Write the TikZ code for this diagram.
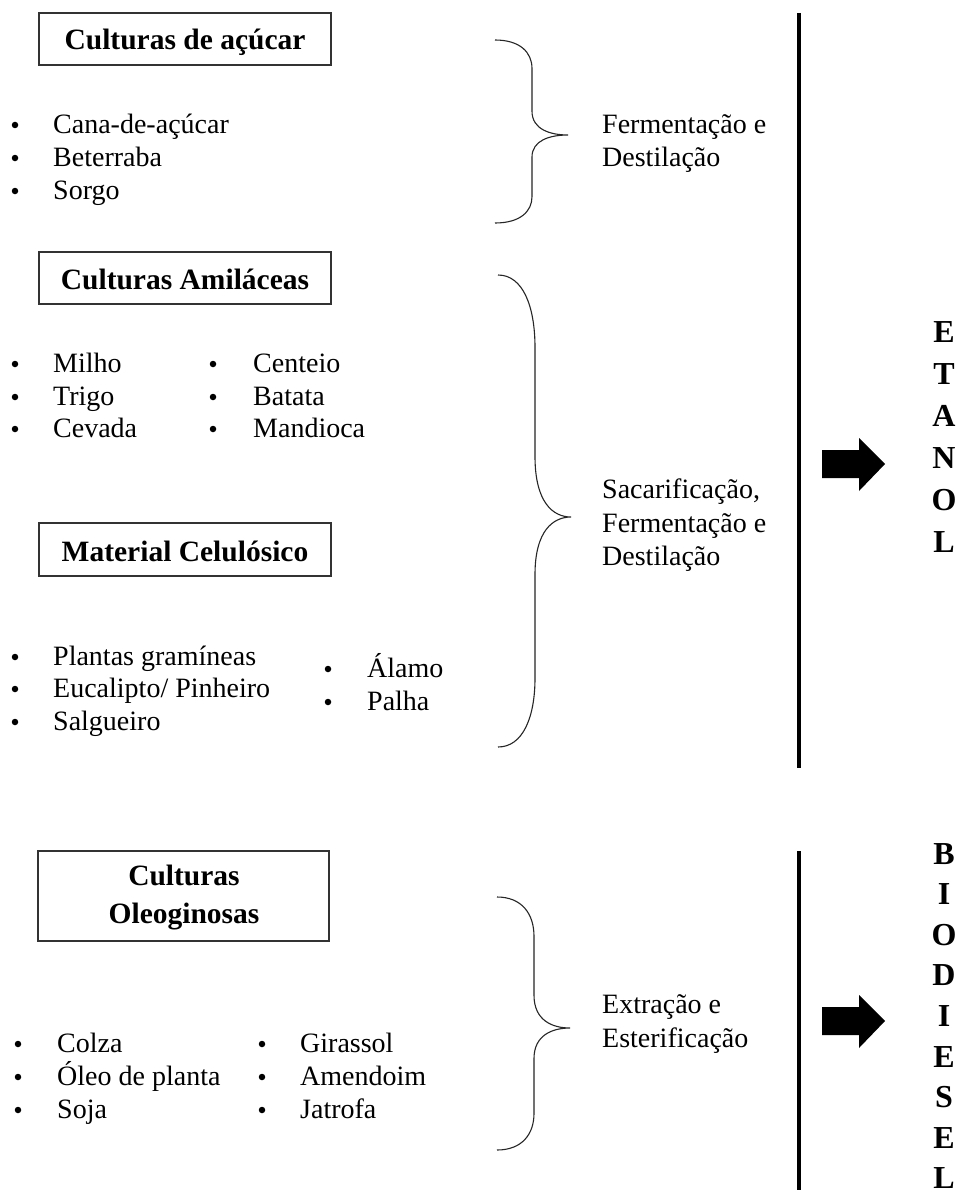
\documentclass[tikz,border=0pt]{standalone}
\usepackage{fontspec}
\setmainfont{Liberation Serif}

\tikzset{
  catbox/.style={draw=black!80, line width=1.3pt, inner sep=0pt},
  head/.style={font=\fontsize{29.5}{33}\selectfont\bfseries, anchor=base, inner sep=0pt},
  item/.style={font=\fontsize{28}{33}\selectfont, anchor=base west, inner sep=0pt},
  proc/.style={font=\fontsize{28}{33}\selectfont, anchor=base west, inner sep=0pt},
  dotmark/.style={circle, fill=black, inner sep=0pt, minimum size=6.5pt},
  product/.style={font=\fontsize{32}{36}\selectfont\bfseries, anchor=base, inner sep=0pt},
  divider/.style={line width=3.5pt},
  bracestroke/.style={line width=1.1pt, black!85},
  blockarrow/.style={fill=black},
}

% bulleted entry: name, bullet x, text x, baseline y, text
\newcommand\bitem[5]{%
  \node[dotmark] (#1-dot) at (#2,{#4-8}) {};
  \node[item] (#1) at (#3,#4) {#5};}

% curly brace opening to the right: left x, top y, bottom y, tip y
\newcommand\curlybrace[4]{%
  \draw[bracestroke]
    (#1,#2) .. controls ({#1+25},#2) and ({#1+37},{#2+0.13*(#4-#2)}) ..
    ({#1+37},{#2+0.3*(#4-#2)})
    -- ({#1+37},{#4-0.25*(#4-#2)})
    .. controls ({#1+37},{#4-0.06*(#4-#2)}) and ({#1+55},#4) .. ({#1+73},#4)
    .. controls ({#1+55},#4) and ({#1+37},{#4+0.06*(#3-#4)}) ..
    ({#1+37},{#4+0.25*(#3-#4)})
    -- ({#1+37},{#3-0.3*(#3-#4)})
    .. controls ({#1+37},{#3-0.13*(#3-#4)}) and ({#1+25},#3) .. (#1,#3);}

% thick right-pointing block arrow centred on y
\newcommand\blockarrowat[1]{%
  \fill[blockarrow] (822,{#1-14}) -- (859,{#1-14}) -- (859,{#1-26}) -- (885,#1)
    -- (859,{#1+27}) -- (859,{#1+14}) -- (822,{#1+14}) -- cycle;}

\begin{document}
\begin{tikzpicture}[x=1pt, y=-1pt]
  \useasboundingbox (0,0) rectangle (963,1196);
  \fill[white] (0,0) rectangle (963,1196);

  % ---- sugar crops ----
  \node[catbox, minimum width=292pt, minimum height=52pt] (boxSugar) at (185,39) {};
  \node[head] (headSugar) at (185,50) {Culturas de açúcar};
  \bitem{cana}{15}{53}{133}{Cana-de-açúcar}
  \bitem{beterraba}{15}{53}{166}{Beterraba}
  \bitem{sorgo}{15}{53}{199}{Sorgo}

  % ---- starch crops ----
  \node[catbox, minimum width=292pt, minimum height=52pt] (boxStarch) at (185,278) {};
  \node[head] (headStarch) at (185,289) {Culturas Amiláceas};
  \bitem{milho}{15}{53}{372}{Milho}
  \bitem{trigo}{15}{53}{405}{Trigo}
  \bitem{cevada}{15}{53}{437}{Cevada}
  \bitem{centeio}{213}{253}{372}{Centeio}
  \bitem{batata}{213}{253}{405}{Batata}
  \bitem{mandioca}{213}{253}{437}{Mandioca}

  % ---- cellulosic material ----
  \node[catbox, minimum width=292pt, minimum height=53pt] (boxCell) at (185,549.5) {};
  \node[head] (headCell) at (185,561) {Material Celulósico};
  \bitem{gramineas}{15}{53}{665}{Plantas gramíneas}
  \bitem{eucalipto}{15}{53}{697}{Eucalipto/ Pinheiro}
  \bitem{salgueiro}{15}{53}{730}{Salgueiro}
  \bitem{alamo}{328}{367}{677}{Álamo}
  \bitem{palha}{328}{367}{710}{Palha}

  % ---- oil crops ----
  \node[catbox, minimum width=291pt, minimum height=90pt] (boxOil) at (183.5,896) {};
  \node[head] (headOil1) at (184,885) {Culturas};
  \node[head] (headOil2) at (184,923) {Oleoginosas};
  \bitem{colza}{18}{57}{1052}{Colza}
  \bitem{oleo}{18}{57}{1085}{Óleo de planta}
  \bitem{soja}{18}{57}{1118}{Soja}
  \bitem{girassol}{262}{300}{1052}{Girassol}
  \bitem{amendoim}{262}{300}{1085}{Amendoim}
  \bitem{jatrofa}{262}{300}{1118}{Jatrofa}

  % ---- braces and processes ----
  \curlybrace{495}{40}{223}{135}
  \node[proc] (p1a) at (602,133) {Fermentação e};
  \node[proc] (p1b) at (602,166) {Destilação};

  \curlybrace{498}{275}{747}{517}
  \node[proc] (p2a) at (602,498) {Sacarificação,};
  \node[proc] (p2b) at (602,532) {Fermentação e};
  \node[proc] (p2c) at (602,565) {Destilação};

  \curlybrace{497}{897}{1150}{1028}
  \node[proc] (p3a) at (602,1013) {Extração e};
  \node[proc] (p3b) at (602,1047) {Esterificação};

  % ---- dividers ----
  \coordinate (d1top) at (799,13);
  \coordinate (d1bot) at (799,768);
  \coordinate (d2top) at (799,851);
  \coordinate (d2bot) at (799,1190);
  \draw[divider] (d1top) -- (d1bot);
  \draw[divider] (d2top) -- (d2bot);

  % ---- products ----
  \blockarrowat{464}
  \blockarrowat{1021}
  \foreach \ch [count=\i from 0] in {E,T,A,N,O,L}
    \node[product] (etanol-\i) at (944,{342+42*\i}) {\ch};
  \foreach \ch [count=\i from 0] in {B,I,O,D,I,E,S,E,L}
    \node[product] (biodiesel-\i) at (944,{864+40.6*\i}) {\ch};
\end{tikzpicture}
\end{document}
